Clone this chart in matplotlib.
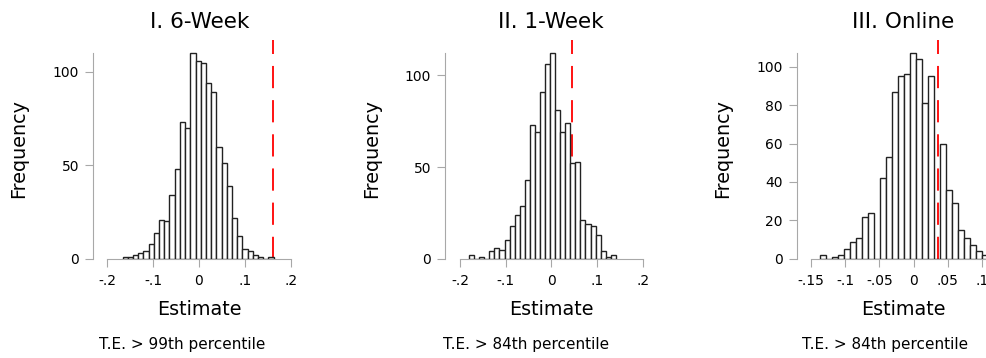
import numpy as np
import matplotlib
matplotlib.use("Agg")
import matplotlib.pyplot as plt

plt.rcParams['font.family'] = ['DejaVu Sans']
plt.rcParams['lines.scale_dashes'] = False

# permutation histograms: counts per bin, first bin edge and bin width
titles = ["I. 6-Week", "II. 1-Week", "III. Online"]
notes = ["T.E. > 99th percentile", "T.E. > 84th percentile", "T.E. > 84th percentile"]

counts_6week = [1, 1, 2, 3, 4, 8, 14, 21, 20, 34, 48, 73, 70, 110, 106, 105,
                94, 89, 60, 51, 39, 22, 12, 5, 4, 2, 1, 0, 1]
counts_1week = [2, 0, 1, 0, 4, 6, 5, 10, 18, 24, 29, 43, 73, 69, 91, 106,
                112, 81, 69, 74, 52, 53, 21, 19, 18, 13, 4, 1, 2]
counts_online = [2, 0, 1, 2, 5, 9, 11, 22, 24, 0, 42, 53, 87, 95, 96, 107,
                 104, 81, 95, 0, 60, 36, 29, 15, 11, 7, 4, 2]

bin_start = [-0.166, -0.180, -0.136]
bin_width = [0.01132, 0.01107, 0.00875]

# treatment effect estimates (red dashed lines)
true_effect = [0.160, 0.0446, 0.0354]

xticks = [[-0.2, -0.1, 0, 0.1, 0.2],
          [-0.2, -0.1, 0, 0.1, 0.2],
          [-0.15, -0.1, -0.05, 0, 0.05, 0.1]]
xticklabels = [["-.2", "-.1", "0", ".1", ".2"],
               ["-.2", "-.1", "0", ".1", ".2"],
               ["-.15", "-.1", "-.05", "0", ".05", ".1"]]
yticks = [[0, 50, 100], [0, 50, 100], [0, 20, 40, 60, 80, 100]]

all_counts = [counts_6week, counts_1week, counts_online]

# layout in pixels (figure is 986 x 358)
W, H = 986, 358
AX_TOP, SPINE_TOP, AX_BOTTOM = 39.5, 53.2, 258.8
ax_left = [93, 445, 796.7]
xlims = [(-0.2304, 0.2304), (-0.2328, 0.2328), (-0.1704, 0.1704)]
spine_right = [0.2, 0.2, 0.15]
px_per_unit = [460, 457, 686]
title_x = [199.5, 551, 903]
ylabel_x = [19, 372, 722.5]
note_x = [182.5, 526, 885.5]
AXIS_GRAY = '#a8a8a8'

fig = plt.figure(figsize=(W / 100, H / 100), dpi=100)

for i in range(3):
    counts = np.array(all_counts[i])
    edges = bin_start[i] + bin_width[i] * np.arange(len(counts))
    width_px = (xlims[i][1] - xlims[i][0]) * px_per_unit[i]
    ax = fig.add_axes([ax_left[i] / W, 1 - AX_BOTTOM / H,
                       width_px / W, (AX_BOTTOM - AX_TOP) / H])

    ax.bar(edges, counts, width=bin_width[i], align='edge', facecolor='white',
           edgecolor='#222222', linewidth=1.0, zorder=3)
    ax.axvline(true_effect[i], color='#ff0000', linewidth=1.3,
               dashes=(16, 8.6), zorder=2)

    ymax = counts.max()
    ax.set_xlim(*xlims[i])
    ax.set_ylim(0, ymax * (AX_BOTTOM - AX_TOP) / (AX_BOTTOM - SPINE_TOP))

    for side in ['top', 'right']:
        ax.spines[side].set_visible(False)
    for side in ['left', 'bottom']:
        ax.spines[side].set_color(AXIS_GRAY)
        ax.spines[side].set_linewidth(0.8)
        ax.spines[side].set_zorder(1)
    ax.spines['left'].set_bounds(0, ymax)
    ax.spines['bottom'].set_bounds(xticks[i][0], spine_right[i])

    ax.set_xticks(xticks[i])
    ax.set_xticklabels(xticklabels[i])
    ax.set_yticks(yticks[i])
    ax.tick_params(axis='both', colors=AXIS_GRAY, labelcolor='black',
                   length=5.8, width=0.8, labelsize=10)
    ax.tick_params(axis='y', pad=4.3)
    ax.tick_params(axis='x', pad=5)
    ax.patch.set_visible(False)

    fig.text(title_x[i] / W, 1 - 28 / H, titles[i], ha='center',
             va='baseline', fontsize=15.5)
    fig.text(title_x[i] / W, 1 - 315 / H, "Estimate", ha='center',
             va='baseline', fontsize=13.8)
    fig.text(ylabel_x[i] / W, 1 - 149 / H, "Frequency", ha='center',
             va='center', rotation=90, fontsize=13.8)
    fig.text(note_x[i] / W, 1 - 349 / H, notes[i], ha='center',
             va='baseline', fontsize=11)

fig.savefig("out.png", dpi=100, facecolor='white')
